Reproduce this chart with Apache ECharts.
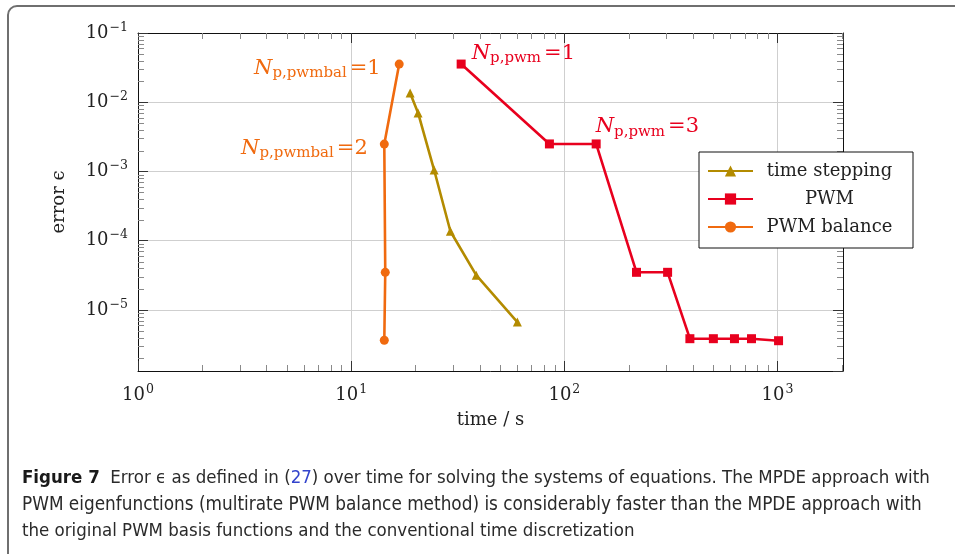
<!DOCTYPE html>
<html>
<head>
<meta charset="utf-8">
<script src="https://cdn.jsdelivr.net/npm/echarts@6/dist/echarts.min.js"></script>
<style>
  html, body { margin: 0; padding: 0; background: #fff; }
  #box { width: 955px; height: 554px; }
</style>
</head>
<body>
<div id="box"></div>
<script>
// data (time in s, error)
var timeStepX = [18.9, 20.6, 24.5, 29.2, 38.6, 60.2];
var timeStepY = [0.0136, 0.0070, 0.00105, 1.37e-4, 3.18e-5, 6.7e-6];
var pwmX = [32.8, 85.1, 141, 218, 305, 388, 500, 628, 755, 1011];
var pwmY = [0.0356, 0.0025, 0.0025, 3.5e-5, 3.5e-5, 3.85e-6, 3.85e-6, 3.85e-6, 3.85e-6, 3.6e-6];
var balX = [16.8, 14.3, 14.45, 14.3];
var balY = [0.0356, 0.00249, 3.5e-5, 3.66e-6];
var seriesNames = ['time stepping', 'PWM', 'PWM balance'];
var xRange = [1, 2028];
var yRange = [1.315e-6, 0.1];

// minor tick positions (2..9 in each decade)
var minorX = [];
var minorY = [];
[1, 10, 100, 1000].forEach(function (d) {
    for (var k = 2; k <= 9; k++) if (k * d < xRange[1]) minorX.push(k * d);
});
[1e-6, 1e-5, 1e-4, 1e-3, 1e-2].forEach(function (d) {
    for (var k = 2; k <= 9; k++) if (k * d > yRange[0]) minorY.push(k * d);
});

var SERIF = "'DejaVu Serif', serif";
var CAPFONT = "'Liberation Sans Narrow', 'DejaVu Sans Condensed', 'Noto Sans', sans-serif";
var colTime = '#b38b00';
var colPwm = '#e8001e';
var colBal = '#f06a0f';

var chartDom = document.getElementById('box');
var myChart = echarts.init(chartDom);

function zip(xs, ys) {
    return xs.map(function (x, i) { return [x, ys[i]]; });
}

function powLabel(value) {
    var e = Math.round(Math.log10(value));
    return '10{s|' + String(e).replace('-', '\u2212') + '}';
}

var labelRich = {
    s: { fontSize: 12.5, fontFamily: SERIF, color: '#222', padding: [0, 0, 11, 1] }
};

function annotRich(color) {
    return {
        i: { fontSize: 21, fontStyle: 'italic', fontFamily: SERIF, color: color },
        s: { fontSize: 15, fontFamily: SERIF, color: color, padding: [10, 0, 0, 0] },
        n: { fontSize: 21, fontFamily: SERIF, color: color, padding: [0, 0, 0, 3] }
    };
}

function minorTicks(isX) {
    return function (params, api) {
        var cs = params.coordSys;
        var p = api.coord([api.value(0), api.value(1)]);
        var len = 6;
        var segs;
        if (isX) {
            var x = Math.round(p[0]) + 0.5;
            segs = [[x, cs.y, x, cs.y + len], [x, cs.y + cs.height, x, cs.y + cs.height - len]];
        } else {
            var y = Math.round(p[1]) + 0.5;
            segs = [[cs.x, y, cs.x + len, y], [cs.x + cs.width, y, cs.x + cs.width - len, y]];
        }
        return {
            type: 'group',
            children: segs.map(function (s) {
                return {
                    type: 'line',
                    shape: { x1: s[0], y1: s[1], x2: s[2], y2: s[3] },
                    style: { stroke: '#8a8a8a', lineWidth: 1 }
                };
            })
        };
    };
}

var balData = zip(balX, balY).map(function (v, i) {
    var item = { value: v };
    if (i === 0 || i === 1) {
        item.label = {
            show: true,
            position: 'left',
            distance: i === 0 ? 14 : 12,
            offset: [0, 4],
            formatter: '{i|N}{s|p,pwmbal}{n|=' + (i + 1) + '}',
            rich: annotRich(colBal)
        };
    }
    return item;
});

var pwmData = zip(pwmX, pwmY).map(function (v, i) {
    var item = { value: v };
    if (i === 0 || i === 2) {
        item.label = {
            show: true,
            position: 'right',
            distance: 6,
            offset: i === 0 ? [0, -11] : [-11, -17],
            formatter: '{i|N}{s|p,pwm}{n|=' + (i === 0 ? 1 : 3) + '}',
            rich: annotRich(colPwm)
        };
    }
    return item;
});

var option = {
    animation: false,
    backgroundColor: '#fff',
    textStyle: { fontFamily: SERIF },
    grid: { left: 138, top: 33, right: 112, bottom: 183, containLabel: false },
    legend: {
        data: seriesNames,
        orient: 'vertical',
        left: 699,
        top: 152,
        padding: [10, 12, 12, 8],
        itemWidth: 45,
        itemHeight: 14,
        itemGap: 10,
        backgroundColor: '#fff',
        borderColor: '#111',
        borderWidth: 1,
        formatter: function (name) { return '{t|' + name + '}'; },
        textStyle: {
            rich: { t: { width: 143, align: 'center', fontSize: 18, fontFamily: SERIF, color: '#222', lineHeight: 18 } }
        }
    },
    graphic: [
        {
            type: 'rect',
            shape: { x: 8, y: 6, width: 1100, height: 700, r: 9 },
            style: { fill: 'none', stroke: '#6f6f6f', lineWidth: 2 },
            silent: true
        },
        {
            type: 'text', left: 22, top: 469,
            style: {
                text: '{b|Figure 7}  Error \u03f5 as defined in ({l|27}) over time for solving the systems of equations. The MPDE approach with',
                font: '18.5px ' + CAPFONT,
                fill: '#2a2a2a',
                rich: {
                    b: { fontWeight: 'bold', fontSize: 18.5, fontFamily: CAPFONT, fill: '#1a1a1a' },
                    l: { fontSize: 18.5, fontFamily: CAPFONT, fill: '#3344cc' }
                }
            }
        },
        {
            type: 'text', left: 22, top: 496,
            style: {
                text: 'PWM eigenfunctions (multirate PWM balance method) is considerably faster than the MPDE approach with',
                font: '18.8px ' + CAPFONT,
                fill: '#2a2a2a'
            }
        },
        {
            type: 'text', left: 22, top: 522,
            style: {
                text: 'the original PWM basis functions and the conventional time discretization',
                font: '18.5px ' + CAPFONT,
                fill: '#2a2a2a'
            }
        }
    ],
    xAxis: [
        {
            type: 'log',
            min: xRange[0],
            max: xRange[1],
            name: 'time / s',
            nameLocation: 'middle',
            nameGap: 40,
            nameTextStyle: { fontSize: 18, fontFamily: SERIF, color: '#222' },
            axisLine: { show: true, lineStyle: { color: '#111', width: 1 } },
            axisTick: { show: true, inside: true, length: 10, lineStyle: { color: '#333' } },
            axisLabel: {
                formatter: powLabel, rich: labelRich, fontSize: 18, fontFamily: SERIF,
                color: '#222', margin: 12, showMaxLabel: false
            },
            splitLine: { show: true, lineStyle: { color: '#cfcfcf', width: 1 } }
        },
        {
            type: 'log',
            position: 'top',
            min: xRange[0],
            max: xRange[1],
            axisLine: { show: true, lineStyle: { color: '#111', width: 1 } },
            axisTick: { show: true, inside: true, length: 10, lineStyle: { color: '#333' } },
            axisLabel: { show: false },
            splitLine: { show: false }
        }
    ],
    yAxis: [
        {
            type: 'log',
            min: yRange[0],
            max: yRange[1],
            name: 'error \u03f5',
            nameLocation: 'middle',
            nameGap: 70,
            nameTextStyle: { fontSize: 18, fontFamily: SERIF, color: '#222' },
            axisLine: { show: true, lineStyle: { color: '#111', width: 1 } },
            axisTick: { show: true, inside: true, length: 10, lineStyle: { color: '#333' } },
            axisLabel: {
                formatter: powLabel, rich: labelRich, fontSize: 18, fontFamily: SERIF,
                color: '#222', margin: 10, showMinLabel: false
            },
            splitLine: { show: true, lineStyle: { color: '#cfcfcf', width: 1 } }
        },
        {
            type: 'log',
            position: 'right',
            min: yRange[0],
            max: yRange[1],
            axisLine: { show: true, lineStyle: { color: '#111', width: 1 } },
            axisTick: { show: true, inside: true, length: 10, lineStyle: { color: '#333' } },
            axisLabel: { show: false },
            splitLine: { show: false }
        }
    ],
    series: [
        {
            type: 'custom', name: 'minorX', silent: true, z: 1,
            renderItem: minorTicks(true),
            data: minorX.map(function (v) { return [v, 1e-3]; })
        },
        {
            type: 'custom', name: 'minorY', silent: true, z: 1,
            renderItem: minorTicks(false),
            data: minorY.map(function (v) { return [10, v]; })
        },
        {
            name: seriesNames[0],
            type: 'line',
            data: zip(timeStepX, timeStepY),
            symbol: 'triangle',
            symbolSize: 9,
            color: colTime,
            lineStyle: { width: 2.6, color: colTime },
            itemStyle: { color: colTime },
            z: 3
        },
        {
            name: seriesNames[1],
            type: 'line',
            data: pwmData,
            symbol: 'rect',
            symbolSize: 9,
            color: colPwm,
            lineStyle: { width: 2.6, color: colPwm },
            itemStyle: { color: colPwm },
            z: 4
        },
        {
            name: seriesNames[2],
            type: 'line',
            data: balData,
            symbol: 'circle',
            symbolSize: 9,
            color: colBal,
            lineStyle: { width: 2.6, color: colBal },
            itemStyle: { color: colBal },
            z: 5
        }
    ]
};

myChart.setOption(option);
</script>
</body>
</html>
